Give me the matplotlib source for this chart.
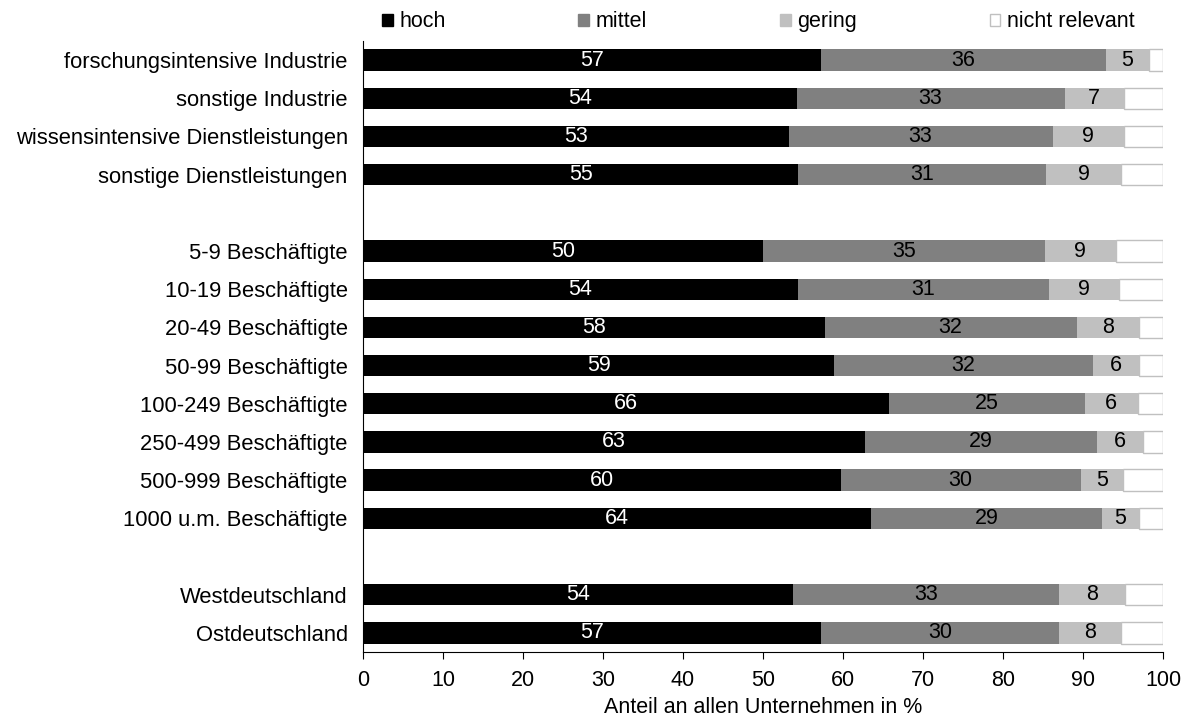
import matplotlib
matplotlib.use("Agg")
import matplotlib.pyplot as plt
from matplotlib.patches import Patch

plt.rcParams["font.family"] = ["Liberation Sans", "DejaVu Sans"]
plt.rcParams["font.size"] = 15

# categories, grouped (blank row between groups)
branchen = [
    "forschungsintensive Industrie",
    "sonstige Industrie",
    "wissensintensive Dienstleistungen",
    "sonstige Dienstleistungen",
]
groessen = [
    "5-9 Beschäftigte",
    "10-19 Beschäftigte",
    "20-49 Beschäftigte",
    "50-99 Beschäftigte",
    "100-249 Beschäftigte",
    "250-499 Beschäftigte",
    "500-999 Beschäftigte",
    "1000 u.m. Beschäftigte",
]
regionen = ["Westdeutschland", "Ostdeutschland"]

# segment widths (percent)
hoch = [57.2, 54.2, 53.2, 54.4, 50.0, 54.4, 57.7, 58.9, 65.7, 62.7, 59.7, 63.5, 53.7, 57.2]
mittel = [35.7, 33.5, 33.0, 31.0, 35.2, 31.3, 31.5, 32.3, 24.5, 29.0, 30.0, 28.9, 33.3, 29.8]
gering = [5.3, 7.4, 8.9, 9.4, 8.9, 8.8, 7.8, 5.8, 6.7, 5.8, 5.3, 4.6, 8.3, 7.7]
nicht_relevant = [1.8, 4.9, 4.9, 5.2, 5.9, 5.5, 3.0, 3.0, 3.1, 2.5, 5.0, 3.0, 4.7, 5.3]

# printed labels
hoch_lbl = [57, 54, 53, 55, 50, 54, 58, 59, 66, 63, 60, 64, 54, 57]
mittel_lbl = [36, 33, 33, 31, 35, 31, 32, 32, 25, 29, 30, 29, 33, 30]
gering_lbl = [5, 7, 9, 9, 9, 9, 8, 6, 6, 6, 5, 5, 8, 8]

# y positions with a blank slot between groups
labels, ypos = [], []
pos = 0
for grp in (branchen, groessen, regionen):
    for name in grp:
        labels.append(name)
        ypos.append(pos)
        pos += 1
    pos += 1
n_slots = pos - 1

fig = plt.figure(figsize=(11.89, 7.22), dpi=100)
ax = fig.add_axes([0.3053, 0.0970, 0.6728, 0.8462])

h = 0.56
left = [0.0] * len(hoch)
series = [
    ("hoch", hoch, "#000000", "none", hoch_lbl, "white"),
    ("mittel", mittel, "#808080", "none", mittel_lbl, "black"),
    ("gering", gering, "#c0c0c0", "none", gering_lbl, "black"),
    ("nicht relevant", nicht_relevant, "#ffffff", "#c0c0c0", None, None),
]
handles = []
for name, vals, col, ec, lbls, tcol in series:
    ax.barh(ypos, vals, left=left, height=h, color=col, edgecolor=ec,
            linewidth=1 if ec != "none" else 0)
    if lbls is not None:
        for y, l, v, t in zip(ypos, left, vals, lbls):
            ax.text(l + v / 2, y, str(t), ha="center", va="center",
                    color=tcol, fontsize=15.5)
    left = [a + b for a, b in zip(left, vals)]
    handles.append(Patch(facecolor=col, edgecolor="#c0c0c0" if ec != "none" else col,
                         label=name))

ax.set_xlim(0, 100)
ax.set_ylim(n_slots - 0.5, -0.5)
ax.set_xticks(range(0, 101, 10))
ax.set_yticks(ypos)
ax.set_yticklabels(labels, fontsize=15.8)
ax.tick_params(axis="y", length=0, pad=11)
ax.tick_params(axis="x", direction="out", length=5, pad=8, labelsize=15.5)
ax.spines["top"].set_visible(False)
ax.spines["right"].set_visible(False)
ax.set_xlabel("Anteil an allen Unternehmen in %", labelpad=4, fontsize=15.5)

ax.legend(handles=handles, loc="lower left", bbox_to_anchor=(0.013, 1.0, 0.962, 0.05),
          mode="expand", ncol=4, frameon=False, handlelength=0.5, handleheight=0.5,
          handletextpad=0.3, borderaxespad=0, fontsize=15.5)

fig.savefig("out.png", dpi=100)
